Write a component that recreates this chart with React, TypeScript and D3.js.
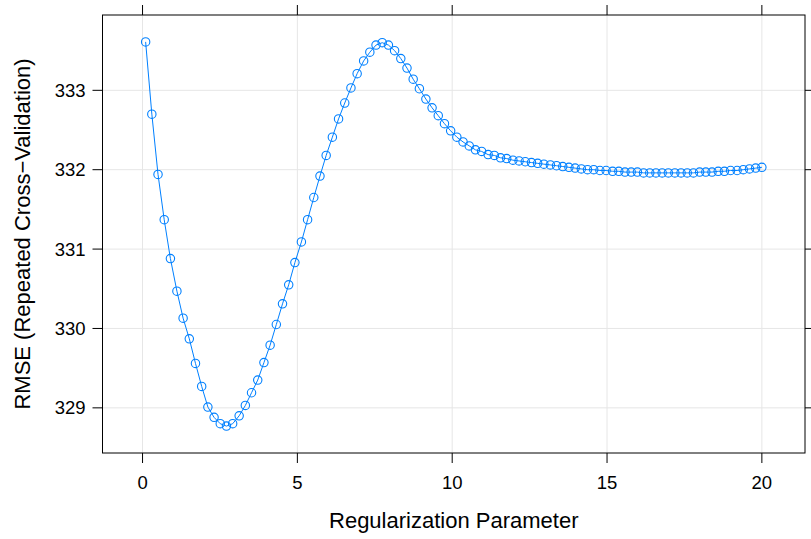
import React, { useRef, useEffect } from 'react'
import * as d3 from 'd3'

// regularization parameter grid
const lambdas = [
  0.10, 0.30, 0.50, 0.70, 0.90, 1.11, 1.31, 1.51, 1.71, 1.91,
  2.11, 2.31, 2.51, 2.71, 2.91, 3.12, 3.32, 3.52, 3.72, 3.92,
  4.12, 4.32, 4.52, 4.72, 4.92, 5.13, 5.33, 5.53, 5.73, 5.93,
  6.13, 6.33, 6.53, 6.73, 6.93, 7.14, 7.34, 7.54, 7.74, 7.94,
  8.14, 8.34, 8.54, 8.74, 8.94, 9.15, 9.35, 9.55, 9.75, 9.95,
  10.15, 10.35, 10.55, 10.75, 10.95, 11.16, 11.36, 11.56, 11.76, 11.96,
  12.16, 12.36, 12.56, 12.76, 12.96, 13.17, 13.37, 13.57, 13.77, 13.97,
  14.17, 14.37, 14.57, 14.77, 14.97, 15.18, 15.38, 15.58, 15.78, 15.98,
  16.18, 16.38, 16.58, 16.78, 16.98, 17.19, 17.39, 17.59, 17.79, 17.99,
  18.19, 18.39, 18.59, 18.79, 18.99, 19.20, 19.40, 19.60, 19.80, 20.00,
]

// RMSE (repeated CV) for each lambda
const rmse = [
  333.61, 332.70, 331.94, 331.37, 330.88, 330.47, 330.13, 329.87, 329.56, 329.27,
  329.01, 328.88, 328.80, 328.77, 328.80, 328.90, 329.03, 329.19, 329.35, 329.57,
  329.79, 330.05, 330.31, 330.55, 330.83, 331.09, 331.37, 331.65, 331.92, 332.18,
  332.41, 332.64, 332.84, 333.03, 333.21, 333.37, 333.48, 333.57, 333.60, 333.57,
  333.50, 333.40, 333.28, 333.14, 333.02, 332.89, 332.78, 332.68, 332.58, 332.49,
  332.41, 332.35, 332.30, 332.25, 332.23, 332.19, 332.18, 332.15, 332.14, 332.12,
  332.11, 332.10, 332.09, 332.08, 332.07, 332.06, 332.05, 332.04, 332.03, 332.02,
  332.01, 332.00, 332.00, 331.99, 331.99, 331.98, 331.98, 331.97, 331.97, 331.97,
  331.96, 331.96, 331.96, 331.96, 331.96, 331.96, 331.96, 331.96, 331.96, 331.97,
  331.97, 331.97, 331.98, 331.98, 331.99, 331.99, 332.00, 332.01, 332.02, 332.03,
]

const xTicks = [0, 5, 10, 15, 20]
const yTicks = [329, 330, 331, 332, 333]

const W = 811
const H = 539
const frame = { left: 102.5, right: 805, top: 15, bottom: 453 }
const blue = '#0080ff'
const font = '"Liberation Sans", Arial, sans-serif'

// lattice pads the data range by 7% on each side
function padded(ext) {
  const d = (ext[1] - ext[0]) * 0.07
  return [ext[0] - d, ext[1] + d]
}

function App() {
  const svgRef = useRef()

  useEffect(() => {
    const svg = d3.select(svgRef.current)
    svg.selectAll('*').remove()

    const x = d3.scaleLinear()
      .domain(padded(d3.extent(lambdas)))
      .range([frame.left, frame.right])
    const y = d3.scaleLinear()
      .domain(padded(d3.extent(rmse)))
      .range([frame.bottom, frame.top])

    const data = lambdas.map((l, i) => ({ l, v: rmse[i] }))

    // grid
    const grid = svg.append('g').attr('stroke', '#e6e6e6').attr('stroke-width', 1)
    grid.selectAll('line.gx').data(xTicks).join('line')
      .attr('class', 'gx')
      .attr('x1', d => x(d)).attr('x2', d => x(d))
      .attr('y1', frame.top).attr('y2', frame.bottom)
    grid.selectAll('line.gy').data(yTicks).join('line')
      .attr('class', 'gy')
      .attr('x1', frame.left).attr('x2', frame.right)
      .attr('y1', d => y(d)).attr('y2', d => y(d))

    // line + points
    const line = d3.line().x(d => x(d.l)).y(d => y(d.v))
    svg.append('path')
      .datum(data)
      .attr('d', line)
      .attr('fill', 'none')
      .attr('stroke', blue)
      .attr('stroke-width', 1)

    svg.append('g')
      .selectAll('circle')
      .data(data)
      .join('circle')
      .attr('cx', d => x(d.l))
      .attr('cy', d => y(d.v))
      .attr('r', 4.2)
      .attr('fill', 'none')
      .attr('stroke', blue)
      .attr('stroke-width', 1.1)

    // frame
    svg.append('rect')
      .attr('x', frame.left).attr('y', frame.top)
      .attr('width', frame.right - frame.left)
      .attr('height', frame.bottom - frame.top)
      .attr('fill', 'none')
      .attr('stroke', '#000')
      .attr('stroke-width', 1)

    // ticks on all sides
    const tk = 10
    const ticks = svg.append('g').attr('stroke', '#000').attr('stroke-width', 1)
    xTicks.forEach(t => {
      ticks.append('line').attr('x1', x(t)).attr('x2', x(t)).attr('y1', frame.bottom).attr('y2', frame.bottom + tk)
      ticks.append('line').attr('x1', x(t)).attr('x2', x(t)).attr('y1', frame.top).attr('y2', frame.top - tk)
    })
    yTicks.forEach(t => {
      ticks.append('line').attr('x1', frame.left).attr('x2', frame.left - tk).attr('y1', y(t)).attr('y2', y(t))
      ticks.append('line').attr('x1', frame.right).attr('x2', frame.right + tk).attr('y1', y(t)).attr('y2', y(t))
    })

    // tick labels
    svg.append('g')
      .selectAll('text')
      .data(xTicks)
      .join('text')
      .attr('x', d => x(d))
      .attr('y', frame.bottom + 35.5)
      .attr('text-anchor', 'middle')
      .style('font', `18.5px ${font}`)
      .attr('fill', '#000')
      .text(d => d)

    svg.append('g')
      .selectAll('text')
      .data(yTicks)
      .join('text')
      .attr('x', frame.left - 17)
      .attr('y', d => y(d))
      .attr('dy', '0.35em')
      .attr('text-anchor', 'end')
      .style('font', `18.5px ${font}`)
      .attr('fill', '#000')
      .text(d => d)

    // axis titles
    svg.append('text')
      .attr('x', (frame.left + frame.right) / 2)
      .attr('y', 528)
      .attr('text-anchor', 'middle')
      .style('font', `22px ${font}`)
      .text('Regularization Parameter')

    svg.append('text')
      .attr('transform', `translate(30,${(frame.top + frame.bottom) / 2}) rotate(-90)`)
      .attr('text-anchor', 'middle')
      .style('font', `22px ${font}`)
      .text('RMSE (Repeated Cross\u2212Validation)')
  }, [])

  return (
    <svg
      ref={svgRef}
      width={W}
      height={H}
      style={{ position: 'absolute', left: 0, top: 0, background: '#fff' }}
    />
  )
}

export default App
